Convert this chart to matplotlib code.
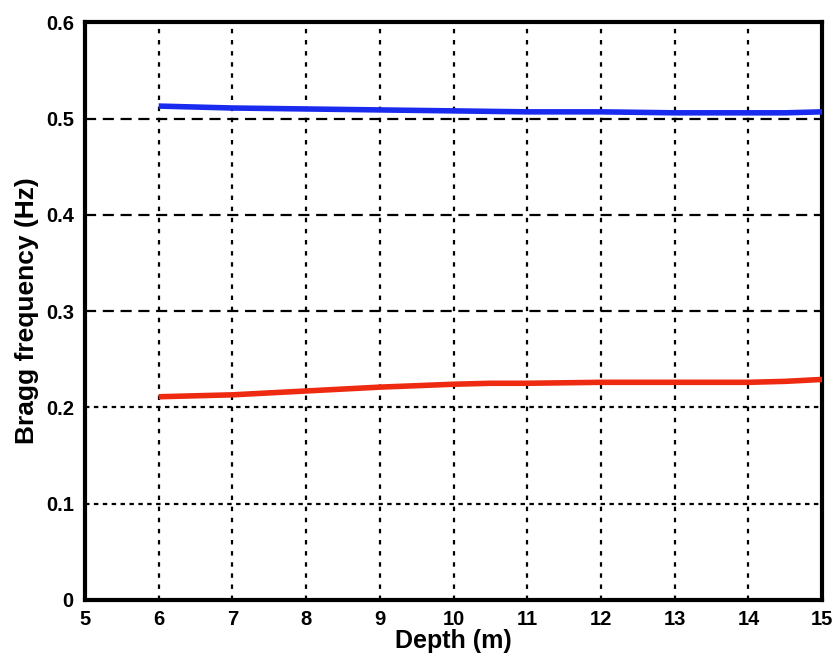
import matplotlib
matplotlib.use("Agg")
import matplotlib.pyplot as plt

depth = [6, 7, 8, 9, 10, 10.5, 11, 12, 13, 14, 14.5, 15]
bragg_blue = [0.513, 0.511, 0.510, 0.509, 0.508, 0.5075, 0.507, 0.507, 0.506, 0.506, 0.506, 0.507]
bragg_red = [0.211, 0.213, 0.217, 0.221, 0.224, 0.225, 0.225, 0.226, 0.226, 0.226, 0.227, 0.229]

x_ticks = list(range(5, 16))
y_ticks = [0, 0.1, 0.2, 0.3, 0.4, 0.5, 0.6]
y_labels = ["0", "0.1", "0.2", "0.3", "0.4", "0.5", "0.6"]

plt.rcParams['font.family'] = ['Liberation Sans', 'DejaVu Sans']
plt.rcParams['font.weight'] = 'bold'

fig = plt.figure(figsize=(8.33, 6.57), dpi=100)
ax = fig.add_axes([0.102, 0.087, 0.885, 0.879])

# grid: vertical dotted, horizontal dashed (lower ones finer)
for x in x_ticks[1:-1]:
    ax.axvline(x, color='black', linestyle=(0, (2, 3)), linewidth=1.6, zorder=1)
for y in [0.3, 0.4, 0.5]:
    ax.axhline(y, color='black', linestyle=(0, (5, 3)), linewidth=1.6, zorder=1)
for y in [0.1, 0.2]:
    ax.axhline(y, color='black', linestyle=(0, (2, 2)), linewidth=1.6, zorder=1)

ax.plot(depth, bragg_blue, color='#1a2bf0', linewidth=4, zorder=3, solid_capstyle='butt')
ax.plot(depth, bragg_red, color='#ee2a10', linewidth=4, zorder=3, solid_capstyle='butt')

ax.set_xlim(5, 15)
ax.set_ylim(0, 0.6)
ax.set_xticks(x_ticks)
ax.set_yticks(y_ticks)
ax.set_yticklabels(y_labels)
ax.tick_params(axis='x', length=0, labelsize=14.5, pad=7)
ax.tick_params(axis='y', length=0, labelsize=14.5, pad=8)
for lab in ax.get_xticklabels() + ax.get_yticklabels():
    lab.set_fontweight('bold')

for s in ax.spines.values():
    s.set_linewidth(3)

ax.set_xlabel('Depth (m)', fontsize=18, fontweight='bold', labelpad=0)
ax.set_ylabel('Bragg frequency (Hz)', fontsize=19, fontweight='bold', labelpad=5)

fig.savefig('out.png', dpi=100)
